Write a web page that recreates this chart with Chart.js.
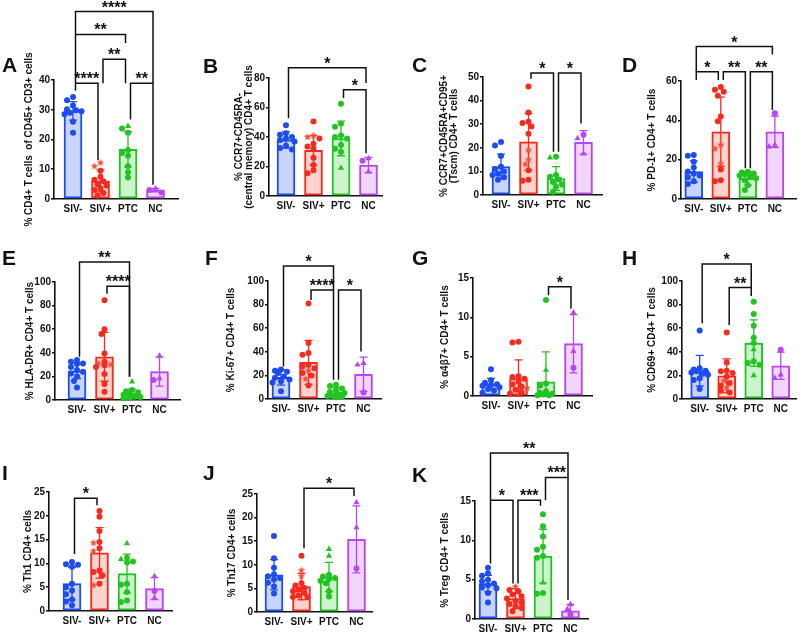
<!DOCTYPE html>
<html>
<head>
<meta charset="utf-8">
<script src="https://cdn.jsdelivr.net/npm/chart.js@4.4.1/dist/chart.umd.min.js"></script>
<style>
html, body { margin: 0; padding: 0; background: #fff; }
#wrap { position: relative; width: 800px; height: 635px; overflow: hidden; }
#wrap canvas { position: absolute; left: 0; top: 0; }
</style>
</head>
<body>
<div id="wrap"></div>
<script>
// groups, same order in every panel
const GROUPS = ['SIV-', 'SIV+', 'PTC', 'NC'];

// ---- panel data: [SIV-, SIV+, PTC, NC] per panel ----
// marks: c = circle (default), t = triangle, s = star
const A_vals = [[34.3, 33.2, 31.4, 30.2, 29.8, 29.5, 29.0, 28.5, 26.0, 22.3],
                [12.2, 11.0, 9.5, 7.5, 6.5, 6.0, 5.0, 4.5, 3.5, 3.0, 2.0, 1.2],
                [24.5, 23.7, 22.3, 16.5, 15.5, 14.5, 11.0, 9.0, 7.2],
                [3.5, 3.0, 2.2]];
const A_marks = ['', 'ss', 't', 'tcc'];
const A_mean = [29.6, 6.1, 16.7, 3.0];
const A_sd = [3.1, 3.7, 5.9, 0.6];
const A_ticks = [0, 10, 20, 30, 40];
// [from, to, line level, left end, right end, label]
const A_sig = [[0, 1, 38.9, 36.4, 13, '****'], [2, 3, 38.9, 26.7, 4.8, '**'],
               [1, 2, 47, 38.9, 38.9, '**'], [0, 2, 55.3, 38.9, 52.4, '**'],
               [0, 3, 63, 55.3, 38.9, '****']];

const B_vals = [[48, 42.5, 41.5, 40, 39, 38, 37, 34, 32.5, 31.5],
                [50.5, 41, 40, 39, 35.5, 33.5, 32, 26, 21, 17.5, 15.5],
                [62.5, 49, 47, 41, 40, 39, 34.5, 32, 30, 19],
                [25.5, 23.9, 16.4]];
const B_marks = ['', 'css', 'ccccccccct', 'tct'];
const B_mean = [38, 31, 39, 21];
const B_sd = [5.6, 10, 11.7, 5.2];
const B_ticks = [0, 20, 40, 60, 80];
const B_sig = [[0, 3, 87, 52.7, 76.6, '*'], [2, 3, 72, 66.4, 29, '*']];

const C_vals = [[22.5, 21, 16.5, 12, 11, 10, 9, 8.5, 7.5, 6.5],
                [46, 35, 31, 30.5, 29, 26, 19, 15, 13, 10.5, 6.5, 6],
                [16.2, 15.8, 8.5, 7.7, 6.6, 5.5, 4.5, 3.5, 1.4],
                [25.5, 24, 17.5]];
const C_marks = ['', 'ccccccsss', 'ct', 'ctt'];
const C_mean = [12, 22.5, 7, 22.3];
const C_sd = [5.3, 12, 5, 5];
const C_ticks = [0, 10, 20, 30, 40, 50];
const C_sig = [[1, 2, 51.7, 49.3, 18.3, '*'], [2, 3, 51.7, 18.3, 30.3, '*']];

const D_vals = [[22.4, 22, 19, 16, 14, 13, 12, 11, 9, 7.6],
                [57, 55.5, 54.5, 52.5, 42, 39.5, 27.5, 25.5, 18, 15, 9.5, 9],
                [13.8, 13.5, 13, 12.5, 12, 11.5, 10.5, 9.5, 7, 4.6],
                [43.6, 27.5, 26.6]];
const D_marks = ['', 'ccccccsss', '', 'ctt'];
const D_mean = [13.9, 34.2, 10.5, 34.2];
const D_sd = [5.5, 17.6, 3.4, 7.9];
const D_ticks = [0, 20, 40, 60];
const D_sig = [[0, 1, 64.7, 60.5, 60.5, '*'], [1, 2, 64.7, 60.5, 15.6, '**'],
               [2, 3, 64.7, 15.6, 45.3, '**'], [0, 3, 77.5, 64.7, 73.5, '*']];

const E_vals = [[34, 32.5, 31, 30.5, 28, 25.5, 24, 22.5, 20, 16, 10.5],
                [84.5, 60, 56, 39.5, 32.5, 31, 30, 29.5, 28, 22, 13.5, 7],
                [15.5, 8.5, 7.5, 6.5, 5.5, 4.5, 3.5, 2.5, 2, 1.5],
                [37.5, 18.3, 16.9]];
const E_marks = ['', 'cccccss', 't', 'ttc'];
const E_mean = [24.8, 36.6, 5.1, 24];
const E_sd = [6.6, 20.7, 4.2, 12.3];
const E_ticks = [0, 20, 40, 60, 80, 100];
const E_sig = [[0, 2, 117, 36.6, 19.7, '**'], [1, 2, 96.3, 90, 19.7, '****']];

const F_vals = [[25, 24, 23, 22, 19, 18, 16.5, 15, 14, 6.5],
                [81, 47.5, 39, 37.5, 29, 27.5, 26, 24, 22, 20, 17, 11.5],
                [12, 11, 9, 7.5, 6, 5, 4, 3, 2.5, 2, 1.5],
                [30.4, 29, 5.6]];
const F_marks = ['', 'cccccccsccs', '', 'ttc'];
const F_mean = [18.3, 31, 5.1, 21];
const F_sd = [6.5, 18.6, 4.5, 14.5];
const F_ticks = [0, 20, 40, 60, 80, 100];
const F_sig = [[0, 2, 112.7, 27.6, 92.4, '*'], [1, 2, 92.4, 84, 16.3, '****'],
               [2, 3, 92.4, 16.3, 40.3, '*']];

const G_vals = [[3.4, 2.0, 1.7, 1.5, 1.4, 1.3, 1.1, 0.9, 0.7, 0.4],
                [6.9, 6.8, 2.5, 2.4, 2.2, 1.8, 1.5, 1.2, 1.0, 0.8, 0.5, 0.3],
                [12.2, 3.3, 1.6, 1.3, 0.6, 0.4, 0.3, 0.2, 0.1, 0.1],
                [10.6, 5.7, 3.6]];
const G_marks = ['', 'ccccccccs', 'ct', 'ttc'];
const G_mean = [1.48, 2.2, 1.8, 6.65];
const G_sd = [0.75, 2.4, 3.8, 3.7];
const G_ticks = [0, 5, 10, 15];
const G_sig = [[2, 3, 13.9, 12.8, 11.1, '*']];

const H_vals = [[58, 26, 25, 24, 23.5, 22.5, 21.5, 20.5, 17.5, 16, 8.5],
                [56.3, 31, 24, 23.5, 22, 19, 15.5, 13.5, 11.5, 9.5, 7, 5.5],
                [82.5, 72, 62, 52, 47.5, 42, 32, 30.5, 29, 20],
                [41.7, 20.6, 17.7]];
const H_marks = ['', 'ccccccsccs', 'ccccctccct', 'ctt'];
const H_mean = [24, 19.7, 47.3, 28.2];
const H_sd = [13, 14.3, 19.7, 11.5];
const H_ticks = [0, 20, 40, 60, 80, 100];
const H_sig = [[0, 2, 114.4, 64.2, 94.4, '*'], [1, 2, 94.4, 62.8, 87.3, '**']];

const I_vals = [[10.3, 9.8, 9.7, 9.3, 5.7, 5, 4.3, 3.5, 2.4, 2, 1.2],
                [21, 19.8, 16.8, 14.5, 14.3, 13.2, 12.6, 8.5, 8.2, 7.5, 5.7, 5.4],
                [14.2, 11.2, 10.9, 10.4, 10.2, 5.7, 5.5, 4, 2.2, 1.9],
                [7.3, 4.2, 2.7]];
const I_marks = ['', 'ccccscsccccs', 'tct', 'tct'];
const I_mean = [5.75, 12.2, 7.85, 4.7];
const I_sd = [3.4, 5.3, 4.1, 2.3];
const I_ticks = [0, 5, 10, 15, 20, 25];
const I_sig = [[0, 1, 23.7, 12, 22.2, '*']];

const J_vals = [[16.1, 11.4, 9.4, 8, 7.6, 7.2, 6.9, 6.2, 5.4, 3.9],
                [11.9, 8.8, 7.6, 6.1, 5.6, 5.1, 4.7, 4.4, 4, 3.5, 3.2, 3.1],
                [13.3, 11.9, 7.9, 7.5, 7.2, 7, 6.6, 6.1, 4.4, 3.3],
                [23.2, 17.9, 9.2]];
const J_marks = ['', 'css', 'tt', 'ttc'];
const J_mean = [7.9, 5.4, 7.4, 15.4];
const J_sd = [3.2, 2.8, 3.1, 7.1];
const J_ticks = [0, 5, 10, 15, 20, 25];
const J_sig = [[1, 3, 26.2, 13.5, 24.6, '*']];

const K_vals = [[6.5, 5.8, 5.5, 5, 4.8, 4.5, 4.3, 4, 3.9, 3.3, 2.1],
                [4.1, 3.7, 3.5, 3.1, 2.9, 2.6, 2.3, 2.1, 1.9, 1.6, 1.4, 1.0],
                [13.3, 11.8, 10.5, 9.2, 8.8, 8, 7.8, 4.6, 3.3, 3.2],
                [1.85, 1.25, 0.6]];
const K_marks = ['', 's', 'ccccccct', 'ttc'];
const K_mean = [4.5, 2.6, 8.0, 1.05];
const K_sd = [1.05, 1.25, 3.4, 0.8];
const K_ticks = [0, 5, 10, 15];
const K_sig = [[0, 1, 15.1, 7.05, 4.5, '*'], [1, 2, 15.1, 4.5, 14.4, '***'],
               [2, 3, 18, 15.1, 2.4, '***'], [0, 3, 21.1, 15.1, 18, '**']];

// ---- styles ----
const STROKE = ['#1c4cf2', '#f42b1d', '#22c422', '#b846f0'];
const FILL = ['#c8d4fc', '#fdd3ce', '#ccf3cc', '#f1d5fc'];
const STAR_COL = '#f4503f';
const FONT = '"Liberation Sans", Arial, Helvetica, sans-serif';
const TICK_FONT = { family: FONT, size: 10, weight: 'bold' };

// layout of each panel on the 800x635 page (pixels)
const PANELS = [
  { id: 'A', vals: A_vals, marks: A_marks, mean: A_mean, sd: A_sd, ticks: A_ticks, sig: A_sig,
    ylab: ['% CD4+ T cells  of CD45+ CD3+ cells'], axisX: 54, c0: 73, right: 178, yTop: 80, y0: 199, labX: 29, lx: 2, ly: 72 },
  { id: 'B', vals: B_vals, marks: B_marks, mean: B_mean, sd: B_sd, ticks: B_ticks, sig: B_sig,
    ylab: ['% CCR7+CD45RA-', '(central memory) CD4+ T cells'], axisX: 269, c0: 286, right: 382, yTop: 78, y0: 196, labX: 239, lx: 203, ly: 73 },
  { id: 'C', vals: C_vals, marks: C_marks, mean: C_mean, sd: C_sd, ticks: C_ticks, sig: C_sig,
    ylab: ['% CCR7+CD45RA+CD95+', '(Tscm) CD4+ T cells'], axisX: 483, c0: 501, right: 602, yTop: 77, y0: 195, labX: 444, lx: 412, ly: 72 },
  { id: 'D', vals: D_vals, marks: D_marks, mean: D_mean, sd: D_sd, ticks: D_ticks, sig: D_sig,
    ylab: ['% PD-1+ CD4+ T cells'], axisX: 681, c0: 694, right: 798, yTop: 81, y0: 199, labX: 652, lx: 622, ly: 72 },
  { id: 'E', vals: E_vals, marks: E_marks, mean: E_mean, sd: E_sd, ticks: E_ticks, sig: E_sig,
    ylab: ['% HLA-DR+ CD4+ T cells'], axisX: 55, c0: 77, right: 180, yTop: 282, y0: 400, labX: 30, lx: 2, ly: 265 },
  { id: 'F', vals: F_vals, marks: F_marks, mean: F_mean, sd: F_sd, ticks: F_ticks, sig: F_sig,
    ylab: ['% Ki-67+ CD4+ T cells'], axisX: 268, c0: 281, right: 381, yTop: 281, y0: 399, labX: 231, lx: 205, ly: 265 },
  { id: 'G', vals: G_vals, marks: G_marks, mean: G_mean, sd: G_sd, ticks: G_ticks, sig: G_sig,
    ylab: ['% α4β7+ CD4+ T cells'], axisX: 473, c0: 491, right: 592, yTop: 278, y0: 396, labX: 445, lx: 412, ly: 265 },
  { id: 'H', vals: H_vals, marks: H_marks, mean: H_mean, sd: H_sd, ticks: H_ticks, sig: H_sig,
    ylab: ['% CD69+ CD4+ T cells'], axisX: 682, c0: 700, right: 798, yTop: 281, y0: 399, labX: 652, lx: 622, ly: 265 },
  { id: 'I', vals: I_vals, marks: I_marks, mean: I_mean, sd: I_sd, ticks: I_ticks, sig: I_sig,
    ylab: ['% Th1 CD4+ cells'], axisX: 49, c0: 72, right: 172, yTop: 492, y0: 611, labX: 28, lx: 2, ly: 480 },
  { id: 'J', vals: J_vals, marks: J_marks, mean: J_mean, sd: J_sd, ticks: J_ticks, sig: J_sig,
    ylab: ['% Th17 CD4+ cells'], axisX: 257, c0: 274, right: 372, yTop: 494, y0: 612, labX: 232, lx: 203, ly: 480 },
  { id: 'K', vals: K_vals, marks: K_marks, mean: K_mean, sd: K_sd, ticks: K_ticks, sig: K_sig,
    ylab: ['% Treg CD4+ T cells'], axisX: 475, c0: 488, right: 588, yTop: 501, y0: 619, labX: 445, lx: 412, ly: 482 }
];

const SP = 27.5;      // px between group centres
const Y_W = 40;       // fixed y-axis box width
const X_H = 14;       // fixed x-axis box height

// small filled star used as point style
function starImg(color, r) {
  const c = document.createElement('canvas');
  const s = Math.ceil(r * 2 + 2);
  c.width = c.height = s;
  const g = c.getContext('2d');
  g.fillStyle = color;
  g.beginPath();
  for (let k = 0; k < 10; k++) {
    const a = -Math.PI / 2 + k * Math.PI / 5;
    const rr = k % 2 ? r * 0.45 : r;
    g.lineTo(s / 2 + rr * Math.cos(a), s / 2 + rr * Math.sin(a));
  }
  g.closePath();
  g.fill();
  return c;
}
const STAR = starImg(STAR_COL, 4);

// spread points sideways so they don't sit on top of each other (layout only)
function swarm(vals, pxY) {
  const cands = [0, -3, 3, -6, 6, -8.5, 8.5];
  const order = vals.map((v, i) => i).sort((a, b) => vals[b] - vals[a]);
  const placed = [];
  const offs = new Array(vals.length).fill(0);
  order.forEach(i => {
    const yp = vals[i] * pxY;
    let best = 0, bestD = -1;
    for (const c of cands) {
      const d = placed.reduce((m, p) => Math.min(m, Math.hypot(p.x - c, p.y - yp)), 99);
      if (d >= 5) { best = c; bestD = 99; break; }
      if (d > bestD) { bestD = d; best = c; }
    }
    placed.push({ x: best, y: yp });
    offs[i] = best / SP;
  });
  return offs;
}

function makePlugin(P) {
  return {
    id: 'panel' + P.id,
    // error bars: after the bars, before the points
    afterDatasetDraw(chart, args) {
      if (args.index !== 0) return;
      const { ctx, scales: { x, y } } = chart;
      ctx.save();
      ctx.lineWidth = 1.3;
      P.mean.forEach((m, g) => {
        const cx = x.getPixelForValue(g);
        const t = y.getPixelForValue(m + P.sd[g]);
        const b = y.getPixelForValue(Math.max(0, m - P.sd[g]));
        ctx.strokeStyle = STROKE[g];
        ctx.beginPath();
        ctx.moveTo(cx, t); ctx.lineTo(cx, b);
        ctx.moveTo(cx - 4, t); ctx.lineTo(cx + 4, t);
        ctx.moveTo(cx - 4, b); ctx.lineTo(cx + 4, b);
        ctx.stroke();
      });
      ctx.restore();
    },
    afterDraw(chart) {
      const { ctx, chartArea, scales: { x, y } } = chart;
      ctx.save();
      // significance brackets
      ctx.strokeStyle = '#111';
      ctx.fillStyle = '#111';
      ctx.lineWidth = 1.5;
      ctx.font = 'bold 16px ' + FONT;
      ctx.textAlign = 'center';
      ctx.textBaseline = 'alphabetic';
      P.sig.forEach(([a, b, yl, ya, yb, lab]) => {
        const xa = x.getPixelForValue(a) + 2.5;
        const xb = x.getPixelForValue(b) - 2.5;
        const py = y.getPixelForValue(yl);
        ctx.beginPath();
        ctx.moveTo(xa, y.getPixelForValue(ya));
        ctx.lineTo(xa, py);
        ctx.lineTo(xb, py);
        ctx.lineTo(xb, y.getPixelForValue(yb));
        ctx.stroke();
        ctx.fillText(lab, (xa + xb) / 2, py + 1);
      });
      // y title
      ctx.font = 'bold 10px ' + FONT;
      ctx.textBaseline = 'middle';
      const cy = (chartArea.top + chartArea.bottom) / 2;
      P.ylab.forEach((line, k) => {
        ctx.save();
        ctx.translate(P.labX + k * 10, cy);
        ctx.rotate(-Math.PI / 2);
        ctx.fillText(line, 0, 0);
        ctx.restore();
      });
      // panel letter
      ctx.font = 'bold 21px ' + FONT;
      ctx.textAlign = 'left';
      ctx.textBaseline = 'alphabetic';
      ctx.fillText(P.id, P.lx, P.ly);
      ctx.restore();
    }
  };
}

const wrap = document.getElementById('wrap');

PANELS.forEach(P => {
  const cv = document.createElement('canvas');
  cv.width = 800;
  cv.height = 635;
  wrap.appendChild(cv);

  const ymax = P.ticks[P.ticks.length - 1];
  const pxY = (P.y0 - P.yTop) / ymax;
  const xMin = -(P.c0 - P.axisX) / SP;
  const xMax = 3 + (P.right - P.c0 - 3 * SP) / SP;

  const pts = [], bg = [], st = [], rad = [];
  P.vals.forEach((arr, g) => {
    const offs = swarm(arr, pxY);
    arr.forEach((v, i) => {
      const m = (P.marks[g] || '')[i] || 'c';
      pts.push({ x: g + offs[i], y: v });
      bg.push(m === 's' ? STAR_COL : STROKE[g]);
      st.push(m === 't' ? 'triangle' : m === 's' ? STAR : 'circle');
      rad.push(m === 't' ? 3.6 : 3);
    });
  });

  new Chart(cv, {
    type: 'bar',
    data: {
      datasets: [
        {
          type: 'bar',
          data: P.mean.map((m, g) => ({ x: g, y: m })),
          backgroundColor: FILL,
          borderColor: STROKE,
          borderWidth: 2,
          borderSkipped: false,
          barThickness: 18,
          order: 2
        },
        {
          type: 'scatter',
          data: pts,
          pointBackgroundColor: bg,
          pointStyle: st,
          pointRadius: rad,
          pointBorderWidth: 0,
          clip: false,
          order: 1
        }
      ]
    },
    options: {
      responsive: false,
      animation: false,
      events: [],
      layout: { padding: { left: P.axisX - Y_W, right: 800 - P.right, top: P.yTop, bottom: 635 - P.y0 - X_H } },
      plugins: { legend: { display: false }, tooltip: { enabled: false } },
      scales: {
        x: {
          type: 'linear', min: xMin, max: xMax, offset: false,
          afterBuildTicks: s => { s.ticks = GROUPS.map((n, i) => ({ value: i })); },
          afterFit: s => { s.height = X_H; },
          grid: { display: false, offset: false, drawTicks: false },
          border: { display: true, color: '#111', width: 1.6 },
          ticks: { autoSkip: false, maxRotation: 0, padding: 4, color: '#111', font: TICK_FONT,
                   callback: v => GROUPS[v] }
        },
        y: {
          type: 'linear', min: 0, max: ymax,
          afterBuildTicks: s => { s.ticks = P.ticks.map(v => ({ value: v })); },
          afterFit: s => { s.width = Y_W; },
          grid: { display: true, drawOnChartArea: false, drawTicks: true, tickLength: 3, color: '#111', lineWidth: 1.6 },
          border: { display: true, color: '#111', width: 1.6 },
          ticks: { padding: 1, color: '#111', font: TICK_FONT }
        }
      }
    },
    plugins: [makePlugin(P)]
  });
});
</script>
</body>
</html>
